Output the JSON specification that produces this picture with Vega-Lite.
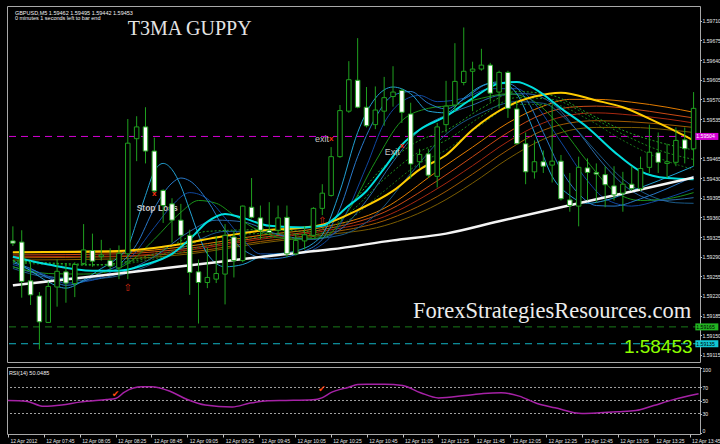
{
"$schema":"https://vega.github.io/schema/vega-lite/v6.json",
"background":"#000000",
"padding":{"left":4,"top":5,"right":0,"bottom":0},
"spacing":3,
"config":{"font":"Liberation Sans","view":{"stroke":"#a8a8a8","fill":"#000000","strokeWidth":1},
 "axis":{"labelOverlap":false,"grid":false,"domain":false,"labelColor":"#e8e8e8","tickColor":"#c0c0c0","labelFont":"Liberation Sans","labelFlush":false}},
"datasets":{
"levels":[{"name":"A","p":1.59504},{"name":"B","p":1.59165},{"name":"C","p":1.59135}],
"candles":[
{"t":"2012-04-12T07:25Z","o":1.59318,"h":1.59344,"l":1.59309,"c":1.59314},
{"t":"2012-04-12T07:30Z","o":1.59316,"h":1.59337,"l":1.59217,"c":1.59246},
{"t":"2012-04-12T07:35Z","o":1.59247,"h":1.59282,"l":1.59204,"c":1.59222},
{"t":"2012-04-12T07:40Z","o":1.59220,"h":1.59227,"l":1.59125,"c":1.59174},
{"t":"2012-04-12T07:45Z","o":1.59173,"h":1.59246,"l":1.59172,"c":1.59237},
{"t":"2012-04-12T07:50Z","o":1.59236,"h":1.59285,"l":1.59201,"c":1.59264},
{"t":"2012-04-12T07:55Z","o":1.59263,"h":1.59278,"l":1.59208,"c":1.59243},
{"t":"2012-04-12T08:00Z","o":1.59242,"h":1.59280,"l":1.59218,"c":1.59276},
{"t":"2012-04-12T08:05Z","o":1.59278,"h":1.59348,"l":1.59275,"c":1.59302},
{"t":"2012-04-12T08:10Z","o":1.59301,"h":1.59331,"l":1.59272,"c":1.59282},
{"t":"2012-04-12T08:15Z","o":1.59290,"h":1.59320,"l":1.59283,"c":1.59293},
{"t":"2012-04-12T08:20Z","o":1.59283,"h":1.59305,"l":1.59266,"c":1.59273},
{"t":"2012-04-12T08:25Z","o":1.59270,"h":1.59310,"l":1.59250,"c":1.59296},
{"t":"2012-04-12T08:30Z","o":1.59295,"h":1.59535,"l":1.59250,"c":1.59492},
{"t":"2012-04-12T08:35Z","o":1.59500,"h":1.59540,"l":1.59460,"c":1.59521},
{"t":"2012-04-12T08:40Z","o":1.59521,"h":1.59556,"l":1.59456,"c":1.59478},
{"t":"2012-04-12T08:45Z","o":1.59478,"h":1.59502,"l":1.59404,"c":1.59407},
{"t":"2012-04-12T08:50Z","o":1.59408,"h":1.59410,"l":1.59350,"c":1.59381},
{"t":"2012-04-12T08:55Z","o":1.59384,"h":1.59394,"l":1.59315,"c":1.59355},
{"t":"2012-04-12T09:00Z","o":1.59355,"h":1.59384,"l":1.59309,"c":1.59328},
{"t":"2012-04-12T09:05Z","o":1.59328,"h":1.59338,"l":1.59222,"c":1.59262},
{"t":"2012-04-12T09:10Z","o":1.59263,"h":1.59285,"l":1.59171,"c":1.59244},
{"t":"2012-04-12T09:15Z","o":1.59244,"h":1.59306,"l":1.59234,"c":1.59253},
{"t":"2012-04-12T09:20Z","o":1.59250,"h":1.59327,"l":1.59243,"c":1.59260},
{"t":"2012-04-12T09:25Z","o":1.59259,"h":1.59348,"l":1.59205,"c":1.59328},
{"t":"2012-04-12T09:30Z","o":1.59325,"h":1.59337,"l":1.59253,"c":1.59283},
{"t":"2012-04-12T09:35Z","o":1.59283,"h":1.59381,"l":1.59280,"c":1.59380},
{"t":"2012-04-12T09:40Z","o":1.59378,"h":1.59430,"l":1.59358,"c":1.59360},
{"t":"2012-04-12T09:45Z","o":1.59359,"h":1.59381,"l":1.59321,"c":1.59337},
{"t":"2012-04-12T09:50Z","o":1.59337,"h":1.59387,"l":1.59332,"c":1.59333},
{"t":"2012-04-12T09:55Z","o":1.59337,"h":1.59381,"l":1.59329,"c":1.59359},
{"t":"2012-04-12T10:00Z","o":1.59360,"h":1.59381,"l":1.59289,"c":1.59295},
{"t":"2012-04-12T10:05Z","o":1.59295,"h":1.59332,"l":1.59292,"c":1.59319},
{"t":"2012-04-12T10:10Z","o":1.59318,"h":1.59344,"l":1.59303,"c":1.59329},
{"t":"2012-04-12T10:15Z","o":1.59328,"h":1.59378,"l":1.59326,"c":1.59376},
{"t":"2012-04-12T10:20Z","o":1.59376,"h":1.59419,"l":1.59364,"c":1.59403},
{"t":"2012-04-12T10:25Z","o":1.59399,"h":1.59485,"l":1.59397,"c":1.59468},
{"t":"2012-04-12T10:30Z","o":1.59468,"h":1.59560,"l":1.59466,"c":1.59550},
{"t":"2012-04-12T10:35Z","o":1.59549,"h":1.59638,"l":1.59546,"c":1.59605},
{"t":"2012-04-12T10:40Z","o":1.59604,"h":1.59679,"l":1.59554,"c":1.59556},
{"t":"2012-04-12T10:45Z","o":1.59556,"h":1.59592,"l":1.59520,"c":1.59523},
{"t":"2012-04-12T10:50Z","o":1.59525,"h":1.59593,"l":1.59517,"c":1.59551},
{"t":"2012-04-12T10:55Z","o":1.59549,"h":1.59610,"l":1.59523,"c":1.59573},
{"t":"2012-04-12T11:00Z","o":1.59575,"h":1.59629,"l":1.59557,"c":1.59583},
{"t":"2012-04-12T11:05Z","o":1.59586,"h":1.59589,"l":1.59528,"c":1.59547},
{"t":"2012-04-12T11:10Z","o":1.59544,"h":1.59564,"l":1.59429,"c":1.59455},
{"t":"2012-04-12T11:15Z","o":1.59459,"h":1.59482,"l":1.59448,"c":1.59472},
{"t":"2012-04-12T11:20Z","o":1.59473,"h":1.59482,"l":1.59430,"c":1.59435},
{"t":"2012-04-12T11:25Z","o":1.59433,"h":1.59528,"l":1.59413,"c":1.59521},
{"t":"2012-04-12T11:30Z","o":1.59525,"h":1.59603,"l":1.59511,"c":1.59558},
{"t":"2012-04-12T11:35Z","o":1.59560,"h":1.59670,"l":1.59549,"c":1.59602},
{"t":"2012-04-12T11:40Z","o":1.59600,"h":1.59698,"l":1.59595,"c":1.59620},
{"t":"2012-04-12T11:45Z","o":1.59620,"h":1.59637,"l":1.59549,"c":1.59624},
{"t":"2012-04-12T11:50Z","o":1.59624,"h":1.59660,"l":1.59621,"c":1.59631},
{"t":"2012-04-12T11:55Z","o":1.59631,"h":1.59635,"l":1.59566,"c":1.59581},
{"t":"2012-04-12T12:00Z","o":1.59583,"h":1.59621,"l":1.59554,"c":1.59618},
{"t":"2012-04-12T12:05Z","o":1.59618,"h":1.59621,"l":1.59537,"c":1.59554},
{"t":"2012-04-12T12:10Z","o":1.59553,"h":1.59568,"l":1.59490,"c":1.59491},
{"t":"2012-04-12T12:15Z","o":1.59491,"h":1.59511,"l":1.59419,"c":1.59441},
{"t":"2012-04-12T12:20Z","o":1.59441,"h":1.59497,"l":1.59429,"c":1.59459},
{"t":"2012-04-12T12:25Z","o":1.59459,"h":1.59479,"l":1.59439,"c":1.59451},
{"t":"2012-04-12T12:30Z","o":1.59453,"h":1.59560,"l":1.59422,"c":1.59460},
{"t":"2012-04-12T12:35Z","o":1.59460,"h":1.59471,"l":1.59390,"c":1.59393},
{"t":"2012-04-12T12:40Z","o":1.59391,"h":1.59439,"l":1.59370,"c":1.59381},
{"t":"2012-04-12T12:45Z","o":1.59380,"h":1.59468,"l":1.59344,"c":1.59449},
{"t":"2012-04-12T12:50Z","o":1.59448,"h":1.59465,"l":1.59390,"c":1.59440},
{"t":"2012-04-12T12:55Z","o":1.59440,"h":1.59456,"l":1.59387,"c":1.59437},
{"t":"2012-04-12T13:00Z","o":1.59436,"h":1.59451,"l":1.59378,"c":1.59418},
{"t":"2012-04-12T13:05Z","o":1.59416,"h":1.59451,"l":1.59390,"c":1.59400},
{"t":"2012-04-12T13:10Z","o":1.59403,"h":1.59441,"l":1.59370,"c":1.59419},
{"t":"2012-04-12T13:15Z","o":1.59419,"h":1.59451,"l":1.59407,"c":1.59411},
{"t":"2012-04-12T13:20Z","o":1.59411,"h":1.59468,"l":1.59407,"c":1.59447},
{"t":"2012-04-12T13:25Z","o":1.59449,"h":1.59525,"l":1.59439,"c":1.59476},
{"t":"2012-04-12T13:30Z","o":1.59475,"h":1.59511,"l":1.59439,"c":1.59458},
{"t":"2012-04-12T13:35Z","o":1.59456,"h":1.59491,"l":1.59430,"c":1.59459},
{"t":"2012-04-12T13:40Z","o":1.59458,"h":1.59520,"l":1.59451,"c":1.59497},
{"t":"2012-04-12T13:45Z","o":1.59498,"h":1.59520,"l":1.59456,"c":1.59482},
{"t":"2012-04-12T13:50Z","o":1.59482,"h":1.59583,"l":1.59451,"c":1.59554}
],
"ma":[
{"s":"S5","t":"2012-04-12T07:25Z","p":1.59284},{"s":"S5","t":"2012-04-12T08:25Z","p":1.59286},{"s":"S5","t":"2012-04-12T09:05Z","p":1.59295},{"s":"S5","t":"2012-04-12T09:45Z","p":1.59314},{"s":"S5","t":"2012-04-12T10:20Z","p":1.59328},{"s":"S5","t":"2012-04-12T10:55Z","p":1.59345},{"s":"S5","t":"2012-04-12T11:25Z","p":1.59383},{"s":"S5","t":"2012-04-12T11:45Z","p":1.59421},{"s":"S5","t":"2012-04-12T12:05Z","p":1.59464},{"s":"S5","t":"2012-04-12T12:25Z","p":1.59499},{"s":"S5","t":"2012-04-12T12:40Z","p":1.59515},{"s":"S5","t":"2012-04-12T12:55Z","p":1.59520},{"s":"S5","t":"2012-04-12T13:15Z","p":1.59520},{"s":"S5","t":"2012-04-12T13:35Z","p":1.59516},{"s":"S5","t":"2012-04-12T13:50Z","p":1.59511},
{"s":"S4","t":"2012-04-12T07:25Z","p":1.59288},{"s":"S4","t":"2012-04-12T08:25Z","p":1.59290},{"s":"S4","t":"2012-04-12T09:05Z","p":1.59298},{"s":"S4","t":"2012-04-12T09:45Z","p":1.59317},{"s":"S4","t":"2012-04-12T10:20Z","p":1.59331},{"s":"S4","t":"2012-04-12T10:55Z","p":1.59354},{"s":"S4","t":"2012-04-12T11:25Z","p":1.59397},{"s":"S4","t":"2012-04-12T11:45Z","p":1.59437},{"s":"S4","t":"2012-04-12T12:05Z","p":1.59480},{"s":"S4","t":"2012-04-12T12:25Z","p":1.59515},{"s":"S4","t":"2012-04-12T12:40Z","p":1.59528},{"s":"S4","t":"2012-04-12T12:55Z","p":1.59532},{"s":"S4","t":"2012-04-12T13:15Z","p":1.59530},{"s":"S4","t":"2012-04-12T13:35Z","p":1.59525},{"s":"S4","t":"2012-04-12T13:50Z","p":1.59520},
{"s":"S3","t":"2012-04-12T07:25Z","p":1.59290},{"s":"S3","t":"2012-04-12T08:25Z","p":1.59291},{"s":"S3","t":"2012-04-12T09:05Z","p":1.59302},{"s":"S3","t":"2012-04-12T09:45Z","p":1.59321},{"s":"S3","t":"2012-04-12T10:20Z","p":1.59335},{"s":"S3","t":"2012-04-12T10:55Z","p":1.59361},{"s":"S3","t":"2012-04-12T11:25Z","p":1.59411},{"s":"S3","t":"2012-04-12T11:45Z","p":1.59452},{"s":"S3","t":"2012-04-12T12:05Z","p":1.59495},{"s":"S3","t":"2012-04-12T12:25Z","p":1.59528},{"s":"S3","t":"2012-04-12T12:40Z","p":1.59542},{"s":"S3","t":"2012-04-12T12:55Z","p":1.59546},{"s":"S3","t":"2012-04-12T13:15Z","p":1.59542},{"s":"S3","t":"2012-04-12T13:35Z","p":1.59535},{"s":"S3","t":"2012-04-12T13:50Z","p":1.59528},
{"s":"S2","t":"2012-04-12T07:25Z","p":1.59293},{"s":"S2","t":"2012-04-12T08:25Z","p":1.59295},{"s":"S2","t":"2012-04-12T09:05Z","p":1.59305},{"s":"S2","t":"2012-04-12T09:45Z","p":1.59324},{"s":"S2","t":"2012-04-12T10:20Z","p":1.59338},{"s":"S2","t":"2012-04-12T10:55Z","p":1.59369},{"s":"S2","t":"2012-04-12T11:25Z","p":1.59425},{"s":"S2","t":"2012-04-12T11:45Z","p":1.59468},{"s":"S2","t":"2012-04-12T12:05Z","p":1.59511},{"s":"S2","t":"2012-04-12T12:25Z","p":1.59544},{"s":"S2","t":"2012-04-12T12:40Z","p":1.59556},{"s":"S2","t":"2012-04-12T12:55Z","p":1.59558},{"s":"S2","t":"2012-04-12T13:15Z","p":1.59553},{"s":"S2","t":"2012-04-12T13:35Z","p":1.59544},{"s":"S2","t":"2012-04-12T13:50Z","p":1.59537},
{"s":"S1","t":"2012-04-12T07:25Z","p":1.59297},{"s":"S1","t":"2012-04-12T08:25Z","p":1.59298},{"s":"S1","t":"2012-04-12T09:05Z","p":1.59309},{"s":"S1","t":"2012-04-12T09:45Z","p":1.59328},{"s":"S1","t":"2012-04-12T10:20Z","p":1.59342},{"s":"S1","t":"2012-04-12T10:55Z","p":1.59376},{"s":"S1","t":"2012-04-12T11:25Z","p":1.59442},{"s":"S1","t":"2012-04-12T11:45Z","p":1.59485},{"s":"S1","t":"2012-04-12T12:05Z","p":1.59528},{"s":"S1","t":"2012-04-12T12:25Z","p":1.59558},{"s":"S1","t":"2012-04-12T12:40Z","p":1.59570},{"s":"S1","t":"2012-04-12T12:55Z","p":1.59570},{"s":"S1","t":"2012-04-12T13:15Z","p":1.59565},{"s":"S1","t":"2012-04-12T13:35Z","p":1.59556},{"s":"S1","t":"2012-04-12T13:50Z","p":1.59547},
{"s":"Y","t":"2012-04-12T07:25Z","p":1.59298},{"s":"Y","t":"2012-04-12T08:25Z","p":1.59300},{"s":"Y","t":"2012-04-12T08:55Z","p":1.59310},{"s":"Y","t":"2012-04-12T09:20Z","p":1.59324},{"s":"Y","t":"2012-04-12T09:45Z","p":1.59336},{"s":"Y","t":"2012-04-12T10:10Z","p":1.59342},{"s":"Y","t":"2012-04-12T10:20Z","p":1.59347},{"s":"Y","t":"2012-04-12T10:40Z","p":1.59373},{"s":"Y","t":"2012-04-12T11:00Z","p":1.59407},{"s":"Y","t":"2012-04-12T11:15Z","p":1.59445},{"s":"Y","t":"2012-04-12T11:30Z","p":1.59471},{"s":"Y","t":"2012-04-12T11:45Z","p":1.59516},{"s":"Y","t":"2012-04-12T12:05Z","p":1.59558},{"s":"Y","t":"2012-04-12T12:20Z","p":1.59575},{"s":"Y","t":"2012-04-12T12:35Z","p":1.59582},{"s":"Y","t":"2012-04-12T12:55Z","p":1.59568},{"s":"Y","t":"2012-04-12T13:10Z","p":1.59556},{"s":"Y","t":"2012-04-12T13:30Z","p":1.59528},{"s":"Y","t":"2012-04-12T13:40Z","p":1.59513},{"s":"Y","t":"2012-04-12T13:50Z","p":1.59497},
{"s":"D3","t":"2012-04-12T07:25Z","p":1.59279},{"s":"D3","t":"2012-04-12T08:15Z","p":1.59274},{"s":"D3","t":"2012-04-12T08:45Z","p":1.59286},{"s":"D3","t":"2012-04-12T09:15Z","p":1.59310},{"s":"D3","t":"2012-04-12T09:45Z","p":1.59324},{"s":"D3","t":"2012-04-12T10:15Z","p":1.59324},{"s":"D3","t":"2012-04-12T10:35Z","p":1.59355},{"s":"D3","t":"2012-04-12T10:55Z","p":1.59407},{"s":"D3","t":"2012-04-12T11:15Z","p":1.59456},{"s":"D3","t":"2012-04-12T11:30Z","p":1.59480},{"s":"D3","t":"2012-04-12T11:50Z","p":1.59525},{"s":"D3","t":"2012-04-12T12:10Z","p":1.59561},{"s":"D3","t":"2012-04-12T12:30Z","p":1.59561},{"s":"D3","t":"2012-04-12T12:50Z","p":1.59535},{"s":"D3","t":"2012-04-12T13:10Z","p":1.59497},{"s":"D3","t":"2012-04-12T13:30Z","p":1.59466},{"s":"D3","t":"2012-04-12T13:50Z","p":1.59445},
{"s":"D2","t":"2012-04-12T07:25Z","p":1.59281},{"s":"D2","t":"2012-04-12T08:15Z","p":1.59276},{"s":"D2","t":"2012-04-12T08:45Z","p":1.59290},{"s":"D2","t":"2012-04-12T09:15Z","p":1.59321},{"s":"D2","t":"2012-04-12T09:45Z","p":1.59331},{"s":"D2","t":"2012-04-12T10:15Z","p":1.59329},{"s":"D2","t":"2012-04-12T10:35Z","p":1.59367},{"s":"D2","t":"2012-04-12T10:55Z","p":1.59428},{"s":"D2","t":"2012-04-12T11:15Z","p":1.59477},{"s":"D2","t":"2012-04-12T11:30Z","p":1.59497},{"s":"D2","t":"2012-04-12T11:50Z","p":1.59540},{"s":"D2","t":"2012-04-12T12:10Z","p":1.59573},{"s":"D2","t":"2012-04-12T12:30Z","p":1.59570},{"s":"D2","t":"2012-04-12T12:50Z","p":1.59542},{"s":"D2","t":"2012-04-12T13:10Z","p":1.59508},{"s":"D2","t":"2012-04-12T13:30Z","p":1.59480},{"s":"D2","t":"2012-04-12T13:50Z","p":1.59463},
{"s":"D1","t":"2012-04-12T07:25Z","p":1.59283},{"s":"D1","t":"2012-04-12T08:15Z","p":1.59276},{"s":"D1","t":"2012-04-12T08:45Z","p":1.59295},{"s":"D1","t":"2012-04-12T09:15Z","p":1.59335},{"s":"D1","t":"2012-04-12T09:45Z","p":1.59338},{"s":"D1","t":"2012-04-12T10:15Z","p":1.59335},{"s":"D1","t":"2012-04-12T10:35Z","p":1.59381},{"s":"D1","t":"2012-04-12T10:55Z","p":1.59451},{"s":"D1","t":"2012-04-12T11:15Z","p":1.59497},{"s":"D1","t":"2012-04-12T11:30Z","p":1.59515},{"s":"D1","t":"2012-04-12T11:50Z","p":1.59554},{"s":"D1","t":"2012-04-12T12:10Z","p":1.59584},{"s":"D1","t":"2012-04-12T12:30Z","p":1.59577},{"s":"D1","t":"2012-04-12T12:50Z","p":1.59546},{"s":"D1","t":"2012-04-12T13:10Z","p":1.59515},{"s":"D1","t":"2012-04-12T13:30Z","p":1.59494},{"s":"D1","t":"2012-04-12T13:50Z","p":1.59480},
{"s":"F7","t":"2012-04-12T07:25Z","p":1.59269},{"s":"F7","t":"2012-04-12T07:50Z","p":1.59252},{"s":"F7","t":"2012-04-12T08:15Z","p":1.59252},{"s":"F7","t":"2012-04-12T08:40Z","p":1.59272},{"s":"F7","t":"2012-04-12T09:05Z","p":1.59312},{"s":"F7","t":"2012-04-12T09:25Z","p":1.59335},{"s":"F7","t":"2012-04-12T09:45Z","p":1.59335},{"s":"F7","t":"2012-04-12T10:10Z","p":1.59321},{"s":"F7","t":"2012-04-12T10:30Z","p":1.59328},{"s":"F7","t":"2012-04-12T10:50Z","p":1.59364},{"s":"F7","t":"2012-04-12T11:10Z","p":1.59438},{"s":"F7","t":"2012-04-12T11:30Z","p":1.59508},{"s":"F7","t":"2012-04-12T11:50Z","p":1.59546},{"s":"F7","t":"2012-04-12T12:10Z","p":1.59566},{"s":"F7","t":"2012-04-12T12:25Z","p":1.59563},{"s":"F7","t":"2012-04-12T12:40Z","p":1.59528},{"s":"F7","t":"2012-04-12T12:55Z","p":1.59477},{"s":"F7","t":"2012-04-12T13:10Z","p":1.59428},{"s":"F7","t":"2012-04-12T13:25Z","p":1.59399},{"s":"F7","t":"2012-04-12T13:40Z","p":1.59386},{"s":"F7","t":"2012-04-12T13:50Z","p":1.59385},
{"s":"F6","t":"2012-04-12T07:25Z","p":1.59272},{"s":"F6","t":"2012-04-12T07:45Z","p":1.59255},{"s":"F6","t":"2012-04-12T08:05Z","p":1.59248},{"s":"F6","t":"2012-04-12T08:25Z","p":1.59260},{"s":"F6","t":"2012-04-12T08:45Z","p":1.59290},{"s":"F6","t":"2012-04-12T09:05Z","p":1.59335},{"s":"F6","t":"2012-04-12T09:20Z","p":1.59355},{"s":"F6","t":"2012-04-12T09:35Z","p":1.59352},{"s":"F6","t":"2012-04-12T09:55Z","p":1.59329},{"s":"F6","t":"2012-04-12T10:15Z","p":1.59321},{"s":"F6","t":"2012-04-12T10:30Z","p":1.59338},{"s":"F6","t":"2012-04-12T10:45Z","p":1.59390},{"s":"F6","t":"2012-04-12T11:00Z","p":1.59459},{"s":"F6","t":"2012-04-12T11:15Z","p":1.59515},{"s":"F6","t":"2012-04-12T11:30Z","p":1.59542},{"s":"F6","t":"2012-04-12T11:45Z","p":1.59560},{"s":"F6","t":"2012-04-12T12:00Z","p":1.59577},{"s":"F6","t":"2012-04-12T12:15Z","p":1.59580},{"s":"F6","t":"2012-04-12T12:30Z","p":1.59563},{"s":"F6","t":"2012-04-12T12:45Z","p":1.59511},{"s":"F6","t":"2012-04-12T13:00Z","p":1.59451},{"s":"F6","t":"2012-04-12T13:15Z","p":1.59407},{"s":"F6","t":"2012-04-12T13:30Z","p":1.59390},{"s":"F6","t":"2012-04-12T13:50Z","p":1.59395},
{"s":"F4","t":"2012-04-12T07:25Z","p":1.59272},{"s":"F4","t":"2012-04-12T07:45Z","p":1.59260},{"s":"F4","t":"2012-04-12T08:05Z","p":1.59259},{"s":"F4","t":"2012-04-12T08:20Z","p":1.59264},{"s":"F4","t":"2012-04-12T08:30Z","p":1.59278},{"s":"F4","t":"2012-04-12T08:45Z","p":1.59321},{"s":"F4","t":"2012-04-12T09:00Z","p":1.59369},{"s":"F4","t":"2012-04-12T09:10Z","p":1.59390},{"s":"F4","t":"2012-04-12T09:20Z","p":1.59385},{"s":"F4","t":"2012-04-12T09:30Z","p":1.59364},{"s":"F4","t":"2012-04-12T09:45Z","p":1.59335},{"s":"F4","t":"2012-04-12T10:05Z","p":1.59321},{"s":"F4","t":"2012-04-12T10:20Z","p":1.59324},{"s":"F4","t":"2012-04-12T10:35Z","p":1.59373},{"s":"F4","t":"2012-04-12T10:50Z","p":1.59459},{"s":"F4","t":"2012-04-12T11:05Z","p":1.59532},{"s":"F4","t":"2012-04-12T11:20Z","p":1.59554},{"s":"F4","t":"2012-04-12T11:35Z","p":1.59560},{"s":"F4","t":"2012-04-12T11:50Z","p":1.59572},{"s":"F4","t":"2012-04-12T12:05Z","p":1.59580},{"s":"F4","t":"2012-04-12T12:20Z","p":1.59566},{"s":"F4","t":"2012-04-12T12:35Z","p":1.59520},{"s":"F4","t":"2012-04-12T12:50Z","p":1.59459},{"s":"F4","t":"2012-04-12T13:05Z","p":1.59407},{"s":"F4","t":"2012-04-12T13:20Z","p":1.59390},{"s":"F4","t":"2012-04-12T13:35Z","p":1.59393},{"s":"F4","t":"2012-04-12T13:50Z","p":1.59404},
{"s":"F3","t":"2012-04-12T07:25Z","p":1.59276},{"s":"F3","t":"2012-04-12T07:40Z","p":1.59262},{"s":"F3","t":"2012-04-12T07:55Z","p":1.59243},{"s":"F3","t":"2012-04-12T08:10Z","p":1.59248},{"s":"F3","t":"2012-04-12T08:20Z","p":1.59262},{"s":"F3","t":"2012-04-12T08:30Z","p":1.59283},{"s":"F3","t":"2012-04-12T08:45Z","p":1.59342},{"s":"F3","t":"2012-04-12T08:55Z","p":1.59381},{"s":"F3","t":"2012-04-12T09:05Z","p":1.59404},{"s":"F3","t":"2012-04-12T09:15Z","p":1.59393},{"s":"F3","t":"2012-04-12T09:25Z","p":1.59359},{"s":"F3","t":"2012-04-12T09:35Z","p":1.59321},{"s":"F3","t":"2012-04-12T09:45Z","p":1.59295},{"s":"F3","t":"2012-04-12T10:05Z","p":1.59295},{"s":"F3","t":"2012-04-12T10:20Z","p":1.59312},{"s":"F3","t":"2012-04-12T10:30Z","p":1.59347},{"s":"F3","t":"2012-04-12T10:45Z","p":1.59451},{"s":"F3","t":"2012-04-12T10:55Z","p":1.59528},{"s":"F3","t":"2012-04-12T11:05Z","p":1.59566},{"s":"F3","t":"2012-04-12T11:15Z","p":1.59577},{"s":"F3","t":"2012-04-12T11:25Z","p":1.59566},{"s":"F3","t":"2012-04-12T11:40Z","p":1.59572},{"s":"F3","t":"2012-04-12T11:55Z","p":1.59589},{"s":"F3","t":"2012-04-12T12:10Z","p":1.59589},{"s":"F3","t":"2012-04-12T12:20Z","p":1.59563},{"s":"F3","t":"2012-04-12T12:35Z","p":1.59494},{"s":"F3","t":"2012-04-12T12:50Z","p":1.59425},{"s":"F3","t":"2012-04-12T13:00Z","p":1.59393},{"s":"F3","t":"2012-04-12T13:15Z","p":1.59380},{"s":"F3","t":"2012-04-12T13:30Z","p":1.59390},{"s":"F3","t":"2012-04-12T13:50Z","p":1.59411},
{"s":"F2","t":"2012-04-12T07:25Z","p":1.59279},{"s":"F2","t":"2012-04-12T07:35Z","p":1.59269},{"s":"F2","t":"2012-04-12T07:45Z","p":1.59252},{"s":"F2","t":"2012-04-12T07:55Z","p":1.59239},{"s":"F2","t":"2012-04-12T08:05Z","p":1.59246},{"s":"F2","t":"2012-04-12T08:15Z","p":1.59262},{"s":"F2","t":"2012-04-12T08:25Z","p":1.59276},{"s":"F2","t":"2012-04-12T08:35Z","p":1.59312},{"s":"F2","t":"2012-04-12T08:45Z","p":1.59376},{"s":"F2","t":"2012-04-12T08:55Z","p":1.59421},{"s":"F2","t":"2012-04-12T09:00Z","p":1.59430},{"s":"F2","t":"2012-04-12T09:05Z","p":1.59425},{"s":"F2","t":"2012-04-12T09:15Z","p":1.59390},{"s":"F2","t":"2012-04-12T09:25Z","p":1.59338},{"s":"F2","t":"2012-04-12T09:35Z","p":1.59303},{"s":"F2","t":"2012-04-12T09:50Z","p":1.59286},{"s":"F2","t":"2012-04-12T10:10Z","p":1.59300},{"s":"F2","t":"2012-04-12T10:20Z","p":1.59321},{"s":"F2","t":"2012-04-12T10:30Z","p":1.59376},{"s":"F2","t":"2012-04-12T10:40Z","p":1.59468},{"s":"F2","t":"2012-04-12T10:50Z","p":1.59537},{"s":"F2","t":"2012-04-12T11:00Z","p":1.59577},{"s":"F2","t":"2012-04-12T11:10Z","p":1.59584},{"s":"F2","t":"2012-04-12T11:20Z","p":1.59563},{"s":"F2","t":"2012-04-12T11:30Z","p":1.59553},{"s":"F2","t":"2012-04-12T11:40Z","p":1.59570},{"s":"F2","t":"2012-04-12T11:55Z","p":1.59598},{"s":"F2","t":"2012-04-12T12:05Z","p":1.59598},{"s":"F2","t":"2012-04-12T12:15Z","p":1.59572},{"s":"F2","t":"2012-04-12T12:25Z","p":1.59511},{"s":"F2","t":"2012-04-12T12:35Z","p":1.59445},{"s":"F2","t":"2012-04-12T12:45Z","p":1.59402},{"s":"F2","t":"2012-04-12T12:55Z","p":1.59381},{"s":"F2","t":"2012-04-12T13:05Z","p":1.59380},{"s":"F2","t":"2012-04-12T13:20Z","p":1.59393},{"s":"F2","t":"2012-04-12T13:35Z","p":1.59411},{"s":"F2","t":"2012-04-12T13:50Z","p":1.59433},
{"s":"F1","t":"2012-04-12T07:25Z","p":1.59283},{"s":"F1","t":"2012-04-12T07:35Z","p":1.59265},{"s":"F1","t":"2012-04-12T07:45Z","p":1.59245},{"s":"F1","t":"2012-04-12T07:55Z","p":1.59234},{"s":"F1","t":"2012-04-12T08:05Z","p":1.59248},{"s":"F1","t":"2012-04-12T08:15Z","p":1.59269},{"s":"F1","t":"2012-04-12T08:20Z","p":1.59278},{"s":"F1","t":"2012-04-12T08:25Z","p":1.59290},{"s":"F1","t":"2012-04-12T08:30Z","p":1.59307},{"s":"F1","t":"2012-04-12T08:35Z","p":1.59352},{"s":"F1","t":"2012-04-12T08:40Z","p":1.59399},{"s":"F1","t":"2012-04-12T08:45Z","p":1.59442},{"s":"F1","t":"2012-04-12T08:50Z","p":1.59456},{"s":"F1","t":"2012-04-12T08:55Z","p":1.59445},{"s":"F1","t":"2012-04-12T09:00Z","p":1.59416},{"s":"F1","t":"2012-04-12T09:05Z","p":1.59373},{"s":"F1","t":"2012-04-12T09:10Z","p":1.59329},{"s":"F1","t":"2012-04-12T09:15Z","p":1.59295},{"s":"F1","t":"2012-04-12T09:25Z","p":1.59272},{"s":"F1","t":"2012-04-12T09:35Z","p":1.59276},{"s":"F1","t":"2012-04-12T09:45Z","p":1.59290},{"s":"F1","t":"2012-04-12T09:55Z","p":1.59295},{"s":"F1","t":"2012-04-12T10:05Z","p":1.59300},{"s":"F1","t":"2012-04-12T10:15Z","p":1.59314},{"s":"F1","t":"2012-04-12T10:20Z","p":1.59329},{"s":"F1","t":"2012-04-12T10:30Z","p":1.59407},{"s":"F1","t":"2012-04-12T10:40Z","p":1.59511},{"s":"F1","t":"2012-04-12T10:50Z","p":1.59572},{"s":"F1","t":"2012-04-12T11:00Z","p":1.59592},{"s":"F1","t":"2012-04-12T11:10Z","p":1.59580},{"s":"F1","t":"2012-04-12T11:20Z","p":1.59549},{"s":"F1","t":"2012-04-12T11:30Z","p":1.59546},{"s":"F1","t":"2012-04-12T11:40Z","p":1.59572},{"s":"F1","t":"2012-04-12T11:50Z","p":1.59594},{"s":"F1","t":"2012-04-12T12:00Z","p":1.59601},{"s":"F1","t":"2012-04-12T12:10Z","p":1.59580},{"s":"F1","t":"2012-04-12T12:20Z","p":1.59511},{"s":"F1","t":"2012-04-12T12:30Z","p":1.59433},{"s":"F1","t":"2012-04-12T12:40Z","p":1.59399},{"s":"F1","t":"2012-04-12T12:50Z","p":1.59385},{"s":"F1","t":"2012-04-12T13:00Z","p":1.59390},{"s":"F1","t":"2012-04-12T13:15Z","p":1.59407},{"s":"F1","t":"2012-04-12T13:30Z","p":1.59425},{"s":"F1","t":"2012-04-12T13:50Z","p":1.59451},
{"s":"F5","t":"2012-04-12T07:25Z","p":1.59290},{"s":"F5","t":"2012-04-12T07:45Z","p":1.59276},{"s":"F5","t":"2012-04-12T08:10Z","p":1.59265},{"s":"F5","t":"2012-04-12T08:25Z","p":1.59265},{"s":"F5","t":"2012-04-12T08:40Z","p":1.59276},{"s":"F5","t":"2012-04-12T08:55Z","p":1.59295},{"s":"F5","t":"2012-04-12T09:05Z","p":1.59321},{"s":"F5","t":"2012-04-12T09:15Z","p":1.59352},{"s":"F5","t":"2012-04-12T09:25Z","p":1.59366},{"s":"F5","t":"2012-04-12T09:35Z","p":1.59359},{"s":"F5","t":"2012-04-12T09:50Z","p":1.59345},{"s":"F5","t":"2012-04-12T10:10Z","p":1.59342},{"s":"F5","t":"2012-04-12T10:20Z","p":1.59345},{"s":"F5","t":"2012-04-12T10:35Z","p":1.59381},{"s":"F5","t":"2012-04-12T10:45Z","p":1.59407},{"s":"F5","t":"2012-04-12T10:55Z","p":1.59447},{"s":"F5","t":"2012-04-12T11:05Z","p":1.59489},{"s":"F5","t":"2012-04-12T11:15Z","p":1.59516},{"s":"F5","t":"2012-04-12T11:30Z","p":1.59540},{"s":"F5","t":"2012-04-12T11:45Z","p":1.59572},{"s":"F5","t":"2012-04-12T12:00Z","p":1.59598},{"s":"F5","t":"2012-04-12T12:10Z","p":1.59601},{"s":"F5","t":"2012-04-12T12:20Z","p":1.59589},{"s":"F5","t":"2012-04-12T12:35Z","p":1.59554},{"s":"F5","t":"2012-04-12T12:50Z","p":1.59520},{"s":"F5","t":"2012-04-12T13:05Z","p":1.59477},{"s":"F5","t":"2012-04-12T13:20Z","p":1.59442},{"s":"F5","t":"2012-04-12T13:35Z","p":1.59430},{"s":"F5","t":"2012-04-12T13:50Z","p":1.59428},
{"s":"W","t":"2012-04-12T07:25Z","p":1.59239},{"s":"W","t":"2012-04-12T08:25Z","p":1.59260},{"s":"W","t":"2012-04-12T09:20Z","p":1.59280},{"s":"W","t":"2012-04-12T09:55Z","p":1.59293},{"s":"W","t":"2012-04-12T10:25Z","p":1.59303},{"s":"W","t":"2012-04-12T11:00Z","p":1.59319},{"s":"W","t":"2012-04-12T11:30Z","p":1.59331},{"s":"W","t":"2012-04-12T12:00Z","p":1.59353},{"s":"W","t":"2012-04-12T12:35Z","p":1.59378},{"s":"W","t":"2012-04-12T13:15Z","p":1.59406},{"s":"W","t":"2012-04-12T13:50Z","p":1.59431}
],
"rsi":[
{"t":"2012-04-12T07:25Z","v":50},{"t":"2012-04-12T07:35Z","v":49},{"t":"2012-04-12T07:45Z","v":41},{"t":"2012-04-12T07:55Z","v":43},{"t":"2012-04-12T08:05Z","v":47.5},{"t":"2012-04-12T08:20Z","v":51.5},{"t":"2012-04-12T08:25Z","v":53},{"t":"2012-04-12T08:30Z","v":63},{"t":"2012-04-12T08:40Z","v":71},{"t":"2012-04-12T08:45Z","v":71},{"t":"2012-04-12T08:55Z","v":64.5},{"t":"2012-04-12T09:05Z","v":51.5},{"t":"2012-04-12T09:15Z","v":43},{"t":"2012-04-12T09:30Z","v":40},{"t":"2012-04-12T09:40Z","v":46},{"t":"2012-04-12T09:50Z","v":49.5},{"t":"2012-04-12T10:00Z","v":50},{"t":"2012-04-12T10:15Z","v":51},{"t":"2012-04-12T10:20Z","v":54},{"t":"2012-04-12T10:25Z","v":62},{"t":"2012-04-12T10:35Z","v":70.5},{"t":"2012-04-12T10:40Z","v":74.5},{"t":"2012-04-12T10:45Z","v":75},{"t":"2012-04-12T10:55Z","v":75},{"t":"2012-04-12T11:05Z","v":73},{"t":"2012-04-12T11:15Z","v":62},{"t":"2012-04-12T11:25Z","v":54},{"t":"2012-04-12T11:40Z","v":57.7},{"t":"2012-04-12T11:50Z","v":60.8},{"t":"2012-04-12T12:00Z","v":62},{"t":"2012-04-12T12:10Z","v":56.7},{"t":"2012-04-12T12:20Z","v":45.4},{"t":"2012-04-12T12:30Z","v":38.8},{"t":"2012-04-12T12:45Z","v":30},{"t":"2012-04-12T12:55Z","v":31},{"t":"2012-04-12T13:05Z","v":32.6},{"t":"2012-04-12T13:15Z","v":34.6},{"t":"2012-04-12T13:25Z","v":42.3},{"t":"2012-04-12T13:35Z","v":50.6},{"t":"2012-04-12T13:50Z","v":60.3}
]
},
"vconcat":[
{
"width":693,"height":356,
"resolve":{"scale":{"color":"independent"}},
"layer":[
{"data":{"name":"levels"},"mark":{"type":"rule","strokeDash":[7,5],"strokeWidth":1},
 "encoding":{"y":{"field":"p","type":"quantitative","title":null,"scale":{"domain":[1.591114,1.597273],"nice":false,"zero":false},
  "axis":{"orient":"right","values":[1.59115,1.5915,1.59185,1.5922,1.59255,1.5929,1.59325,1.5936,1.59395,1.5943,1.59465,1.59535,1.5957,1.59605,1.5964,1.59675,1.5971],"tickCount":60,"format":".5f","labelFontSize":5.1,"tickSize":1.5,"labelPadding":0.5,"labelOverlap":false,"title":null}},
 "color":{"field":"name","type":"nominal","scale":{"domain":["A","B","C"],"range":["#d400d4","#1a7a1a","#12b4c4"]},"legend":null}}},
{"data":{"name":"ma"},"transform":[{"filter":{"field":"s","oneOf":["S5","S4","S3","S2","S1","F7","F6","F4","F3","F2","F1"]}}],
 "mark":{"type":"line","interpolate":"monotone","strokeWidth":1},
 "encoding":{"x":{"field":"t","type":"temporal","title":null,"scale":{"type":"utc","domain":[1334215470000,1334238648000],"nice":false},"axis":null},
 "y":{"field":"p","type":"quantitative","title":null},
 "color":{"field":"s","type":"nominal","scale":{"domain":["S5","S4","S3","S2","S1","F7","F6","F4","F3","F2","F1"],"range":["#7a5c00","#a05a00","#a82810","#cc4a14","#e27c00","#1a5a88","#2a6aa8","#1a921a","#1048a0","#2878c8","#22a0d2"]},"legend":null}}},
{"data":{"name":"ma"},"transform":[{"filter":{"field":"s","oneOf":["D3","D2","D1"]}}],
 "mark":{"type":"line","interpolate":"monotone","strokeWidth":1,"strokeDash":[2,2]},
 "encoding":{"x":{"field":"t","type":"temporal","title":null,"axis":null},
 "y":{"field":"p","type":"quantitative","title":null},
 "color":{"field":"s","type":"nominal","scale":{"domain":["D3","D2","D1"],"range":["#187018","#1a8a1a","#22a022"]},"legend":null}}},
{"data":{"name":"ma"},"transform":[{"filter":{"field":"s","oneOf":["Y","F5"]}}],
 "mark":{"type":"line","interpolate":"monotone","strokeWidth":2},
 "encoding":{"x":{"field":"t","type":"temporal","title":null,"axis":null},
 "y":{"field":"p","type":"quantitative","title":null},
 "color":{"field":"s","type":"nominal","scale":{"domain":["Y","F5"],"range":["#ffcc00","#00dede"]},"legend":null}}},
{"data":{"name":"ma"},"transform":[{"filter":{"field":"s","equal":"W"}}],
 "mark":{"type":"line","interpolate":"monotone","strokeWidth":2.5,"color":"#f4f4f4"},
 "encoding":{"x":{"field":"t","type":"temporal","title":null,"axis":null},
 "y":{"field":"p","type":"quantitative","title":null}}},
{"data":{"values":[{"t":"2012-04-12T08:35Z","p":1.59371,"txt":"Stop Loss"}]},
 "mark":{"type":"text","align":"left","baseline":"alphabetic","fontSize":8.5,"fontWeight":"bold","color":"#c4c4c4"},
 "encoding":{"x":{"field":"t","type":"temporal","title":null,"axis":null},"y":{"field":"p","type":"quantitative","title":null},"text":{"field":"txt","type":"nominal"}}},
{"data":{"values":[{"t":"2012-04-12T10:25Z","p":1.59494,"txt":"exit"},{"t":"2012-04-12T11:05Z","p":1.59471,"txt":"Exit"}]},
 "mark":{"type":"text","align":"right","baseline":"alphabetic","dx":-2,"fontSize":9,"color":"#c4c4c4"},
 "encoding":{"x":{"field":"t","type":"temporal","title":null,"axis":null},"y":{"field":"p","type":"quantitative","title":null},"text":{"field":"txt","type":"nominal"}}},
{"data":{"values":[{"t":"2012-04-12T10:25Z","p":1.59499,"txt":"x"},{"t":"2012-04-12T11:05Z","p":1.59487,"txt":"x"},{"t":"2012-04-12T08:45Z","p":1.59402,"txt":"x"}]},
 "mark":{"type":"text","align":"center","baseline":"middle","fontSize":8,"fontWeight":"bold","color":"#ff3010"},
 "encoding":{"x":{"field":"t","type":"temporal","title":null,"axis":null},"y":{"field":"p","type":"quantitative","title":null},"text":{"field":"txt","type":"nominal"}}},
{"data":{"values":[{"t":"2012-04-12T08:30Z","p":1.59234,"txt":"⇧"},{"t":"2012-04-12T10:20Z","p":1.59354,"txt":"⇧"}]},
 "mark":{"type":"text","align":"center","baseline":"middle","font":"DejaVu Sans","fontSize":10,"color":"#d82a10"},
 "encoding":{"x":{"field":"t","type":"temporal","title":null,"axis":null},"y":{"field":"p","type":"quantitative","title":null},"text":{"field":"txt","type":"nominal"}}},
{"data":{"name":"candles"},"mark":{"type":"rule","color":"#1fa01f","strokeWidth":1},
 "encoding":{"x":{"field":"t","type":"temporal","title":null,"axis":null},"y":{"field":"l","type":"quantitative","title":null},"y2":{"field":"h"}}},
{"data":{"name":"candles"},"mark":{"type":"bar","size":4.5,"stroke":"#1fa01f","strokeWidth":1},
 "encoding":{"x":{"field":"t","type":"temporal","title":null,"axis":null},
 "y":{"field":"o","type":"quantitative","title":null},
 "y2":{"field":"c"},
 "fill":{"condition":{"test":"datum.c < datum.o","value":"#ffffff"},"value":"#000000"}}},
{"data":{"values":[{"t":"2012-04-12T07:25Z","p":1.59727,"txt":"GBPUSD,M5  1.59462 1.59495 1.59442 1.59453"},{"t":"2012-04-12T07:25Z","p":1.59719,"txt":"0 minutes 1 seconds left to bar end"}]},
 "mark":{"type":"text","align":"left","baseline":"top","dx":2,"fontSize":5.5,"color":"#f0f0f0"},
 "encoding":{"x":{"field":"t","type":"temporal","title":null,"axis":null},"y":{"field":"p","type":"quantitative","title":null},"text":{"field":"txt","type":"nominal"}}},
{"data":{"values":[{"t":"2012-04-12T09:05Z","p":1.59685,"txt":"T3MA GUPPY"}]},
 "mark":{"type":"text","align":"center","baseline":"alphabetic","font":"Liberation Serif","fontSize":20,"color":"#e4e4e4"},
 "encoding":{"x":{"field":"t","type":"temporal","title":null,"axis":null},"y":{"field":"p","type":"quantitative","title":null},"text":{"field":"txt","type":"nominal"}}},
{"data":{"values":[{"t":"2012-04-12T12:30Z","p":1.59181,"txt":"ForexStrategiesResources.com"}]},
 "mark":{"type":"text","align":"center","baseline":"alphabetic","font":"Liberation Serif","fontSize":22.5,"color":"#ececec"},
 "encoding":{"x":{"field":"t","type":"temporal","title":null,"axis":null},"y":{"field":"p","type":"quantitative","title":null},"text":{"field":"txt","type":"nominal"}}},
{"data":{"values":[{"t":"2012-04-12T13:30Z","p":1.59118,"txt":"1.58453"}]},
 "mark":{"type":"text","align":"center","baseline":"alphabetic","font":"Liberation Sans","fontSize":19,"color":"#8cff00"},
 "encoding":{"x":{"field":"t","type":"temporal","title":null,"axis":null},"y":{"field":"p","type":"quantitative","title":null},"text":{"field":"txt","type":"nominal"}}},
{"data":{"name":"levels"},"mark":{"type":"bar","size":7,"clip":false},
 "encoding":{"x":{"datum":1334238660000,"type":"temporal","title":null,"axis":null},"x2":{"datum":1334239440000},
 "y":{"field":"p","type":"quantitative","title":null},
 "color":{"field":"name","type":"nominal","scale":{"domain":["A","B","C"],"range":["#d400d4","#22b422","#12c8d4"]},"legend":null}}},
{"data":{"name":"levels"},"mark":{"type":"text","align":"left","baseline":"middle","fontSize":5.1,"dx":1},
 "encoding":{"x":{"datum":1334238660000,"type":"temporal","title":null,"axis":null},
 "y":{"field":"p","type":"quantitative","title":null},
 "text":{"field":"p","type":"quantitative","format":".5f"},
 "fill":{"condition":{"test":"datum.name == 'A'","value":"#ffffff"},"value":"#000000"}}}
]
},
{
"width":693,"height":67,
"layer":[
{"data":{"values":[{"v":30},{"v":50},{"v":70}]},"mark":{"type":"rule","color":"#a0a0a0","strokeDash":[2,2],"strokeWidth":1},
 "encoding":{"y":{"field":"v","type":"quantitative","title":null,"scale":{"domain":[-1.5,101.5],"nice":false,"zero":false},
  "axis":{"orient":"right","values":[0,30,50,70,100],"tickCount":60,"labelFontSize":5.1,"tickSize":1.5,"labelPadding":0.5,"labelFlush":true,"labelOverlap":false,"title":null}}}},
{"data":{"name":"rsi"},"mark":{"type":"line","color":"#a622a6","strokeWidth":1.5,"interpolate":"monotone"},
 "encoding":{"x":{"field":"t","type":"temporal","title":null,"scale":{"type":"utc","domain":[1334215470000,1334238648000],"nice":false},
  "axis":{"values":[1334215500000,1334216700000,1334217900000,1334219100000,1334220300000,1334221500000,1334222700000,1334223900000,1334225100000,1334226300000,1334227500000,1334228700000,1334229900000,1334231100000,1334232300000,1334233500000,1334234700000,1334235900000,1334237100000,1334238300000],"tickCount":60,
  "labelExpr":"datum.index == 0 ? '12 Apr 2012' : '12 Apr ' + utcFormat(datum.value, '%H:%M')","labelAlign":"left","labelOffset":2,"labelFontSize":5,"tickSize":3,"labelPadding":1,"labelOverlap":false,"title":null}},
 "y":{"field":"v","type":"quantitative","title":null}}},
{"data":{"values":[{"t":"2012-04-12T08:25Z","v":60,"txt":"✔"},{"t":"2012-04-12T10:20Z","v":67,"txt":"✔"}]},
 "mark":{"type":"text","align":"center","baseline":"middle","font":"DejaVu Sans","fontSize":9,"color":"#ff4a10"},
 "encoding":{"x":{"field":"t","type":"temporal","title":null},"y":{"field":"v","type":"quantitative","title":null},"text":{"field":"txt","type":"nominal"}}},
{"data":{"values":[{"t":"2012-04-12T07:25Z","v":93,"txt":"RSI(14) 50.0485"}]},
 "mark":{"type":"text","align":"left","baseline":"middle","dx":1,"fontSize":5.5,"color":"#f0f0f0"},
 "encoding":{"x":{"field":"t","type":"temporal","title":null},"y":{"field":"v","type":"quantitative","title":null},"text":{"field":"txt","type":"nominal"}}}
]
}
]
}
